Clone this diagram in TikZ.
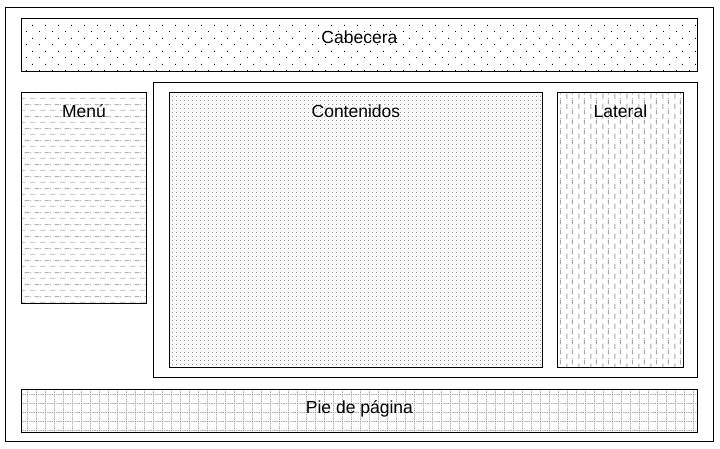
\documentclass[tikz,border=0pt]{standalone}
\usepackage{fontspec}
\setmainfont{Liberation Sans}
\usepackage{tikz}
\usetikzlibrary{patterns.meta, positioning}

\tikzdeclarepattern{name=sparsedots, type=uncolored, bottom left={(0,0)}, top right={(13pt,13pt)}, tile size={(13pt,13pt)},
  code={\fill (0,0) rectangle (1pt,1pt); \fill (6.5pt,6.5pt) rectangle (7.5pt,7.5pt);}}
\tikzdeclarepattern{name=hdashes, type=uncolored, bottom left={(0,0)}, top right={(10pt,12pt)}, tile size={(10pt,12pt)},
  code={\fill (0,2.5pt) rectangle (6pt,3.5pt); \fill (5pt,8.5pt) rectangle (10pt,9.5pt); \fill (0,8.5pt) rectangle (1pt,9.5pt);}}
\tikzdeclarepattern{name=densedots, type=uncolored, bottom left={(0,0)}, top right={(4pt,4pt)}, tile size={(4pt,4pt)},
  code={\fill (0,0) rectangle (1pt,1pt); \fill (2pt,2pt) rectangle (3pt,3pt);}}
\tikzdeclarepattern{name=vdashes, type=uncolored, bottom left={(0,0)}, top right={(12pt,10pt)}, tile size={(12pt,10pt)},
  code={\fill (2.5pt,0) rectangle (3.5pt,6pt); \fill (8.5pt,5pt) rectangle (9.5pt,10pt); \fill (8.5pt,0) rectangle (9.5pt,1pt);}}
\tikzdeclarepattern{name=dotgrid, type=uncolored, bottom left={(0,0)}, top right={(9pt,9pt)}, tile size={(9pt,9pt)},
  code={\foreach \k in {0,2,4,6,8} {\fill (\k pt,0) rectangle (\k pt+1pt,1pt); \fill (0,\k pt) rectangle (1pt,\k pt+1pt);}}}

\tikzset{
  frame/.style={draw, line width=0.8pt, inner sep=0pt, anchor=north west},
  area/.style={frame},
  tag/.style={anchor=base, font=\fontsize{17.5}{20}\selectfont, inner sep=0pt}
}

\begin{document}
\begin{tikzpicture}[x=1pt, y=-1pt]
\useasboundingbox (0,0) rectangle (720,448);

% marcos
\node[frame, minimum width=708pt, minimum height=434pt] (page) at (5,7) {};
\node[frame, minimum width=544pt, minimum height=295pt] (main) at (153,82) {};

% zonas
\node[area, minimum width=676pt, minimum height=53pt, pattern={sparsedots}, pattern color=black] (head) at (21,18) {};
\node[area, minimum width=125pt, minimum height=211pt, pattern={hdashes}, pattern color=black!30] (menu) at (21,92) {};
\node[area, minimum width=373pt, minimum height=275pt, pattern={densedots}, pattern color=black!45] (content) at (169,92) {};
\node[area, minimum width=126pt, minimum height=275pt, pattern={vdashes}, pattern color=black!35] (side) at (557,92) {};
\node[area, minimum width=676pt, minimum height=43pt, pattern={dotgrid}, pattern color=black!40] (foot) at (21,389) {};

% textos
\node[below=25pt of head.north, tag] (headtxt) {Cabecera};
\node[below=25pt of menu.north, tag] (menutxt) {Menú};
\node[below=25pt of content.north, tag] (contenttxt) {Contenidos};
\node[below=25pt of side.north, tag] (sidetxt) {Lateral};
\node[below=24.5pt of foot.north, tag] (foottxt) {Pie de página};
\end{tikzpicture}
\end{document}
